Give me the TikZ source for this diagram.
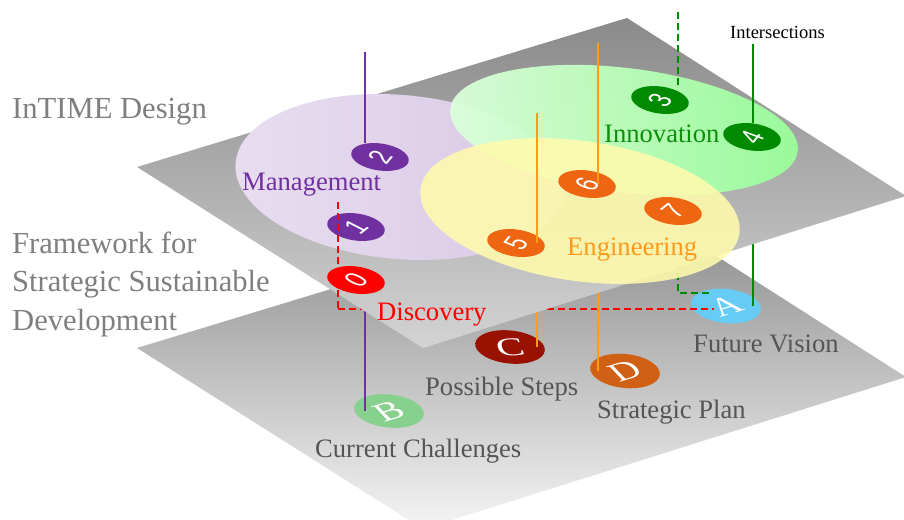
\documentclass[tikz,border=0pt]{standalone}
\usepackage{fontspec}
\setmainfont{Liberation Serif}
\newfontfamily\numfont{Liberation Sans}
\usepackage{graphicx}
\usetikzlibrary{shapes.geometric,positioning}

\definecolor{sidegray}{HTML}{7F7F7F}
\definecolor{labelgray}{HTML}{555555}
\definecolor{mgmtpurple}{HTML}{7030A0}
\definecolor{innogreen}{HTML}{0E900E}
\definecolor{enggorange}{HTML}{FF9A1A}
\definecolor{discred}{HTML}{FF0000}
\definecolor{badgegreen}{HTML}{008A00}
\definecolor{badgeorange}{HTML}{EE6611}
\definecolor{visionblue}{HTML}{66CCF5}
\definecolor{challgreen}{HTML}{88D08E}
\definecolor{stepsred}{HTML}{991100}
\definecolor{planorange}{HTML}{D06014}

\newcommand{\layflat}[2]{\scalebox{1}[0.6]{\rotatebox{#1}{#2}}}

\tikzset{
numbadge/.style={
  ellipse,
  inner sep=0pt,
  minimum width=58pt,
  minimum height=27pt,
  rotate=-8,
  text=white,
  font=\numfont\fontsize{32}{32}\selectfont,
  }
}
\tikzset{
stepbadge/.style={
  ellipse,
  inner sep=0pt,
  minimum width=70pt,
  minimum height=33pt,
  rotate=-6,
  text=white,
  font=\fontsize{42}{42}\selectfont,
  }
}
\tikzset{
planelabel/.style={
  inner sep=0pt,
  anchor=base west,
  font=\fontsize{26.6}{26.6}\selectfont,
  }
}
\tikzset{
link/.style={
  line width=1.8pt,
  }
}
\tikzset{
dashlink/.style={
  line width=1.4pt,
  dash pattern=on 7pt off 4pt,
  }
}

\begin{document}
\begin{tikzpicture}[x=1pt,y=-1pt]
    \useasboundingbox (0,0) rectangle (904,519);

    % lower plane
    \shade[top color=black!48, bottom color=black!4] (137,348) -- (627,199) -- (906,377) -- (423,529) -- cycle;

    \node[stepbadge, fill=visionblue] (badge_a) at (726,306) {\layflat{35}{A}};
    \node[stepbadge, fill=challgreen] (badge_b) at (389,411) {\layflat{35}{B}};
    \node[stepbadge, fill=stepsred] (badge_c) at (510,347) {\layflat{15}{C}};
    \node[stepbadge, fill=planorange] (badge_d) at (625,371) {\layflat{35}{D}};

    \node[planelabel, text=labelgray] (vision_lbl) at (693,352) {Future Vision};
    \node[planelabel, text=labelgray] (steps_lbl) at (425,395) {Possible Steps};
    \node[planelabel, text=labelgray] (plan_lbl) at (597,418) {Strategic Plan};
    \node[planelabel, text=labelgray] (chall_lbl) at (315,457) {Current Challenges};

    % links below the upper plane
    \coordinate (disc_corner) at (338,309);
    \coordinate (disc_end) at (714,309);
    \coordinate (mgmt_low) at (365,300);
    \coordinate (eng5_low) at (537,300);
    \coordinate (eng6_low) at (598,285);
    \coordinate (inno3_low) at (678,262);
    \coordinate (inno3_turn) at (678,293);
    \coordinate (inno3_end) at (712,293);
    \coordinate (inno4_low) at (753,235);

    \draw[dashlink, discred] (disc_corner) -- (disc_end);
    \draw[dashlink, badgegreen] (inno3_low) -- (inno3_turn) -- (inno3_end);
    \draw[link, badgegreen] (inno4_low) -- (inno4_low |- badge_a.center);
    \draw[link, mgmtpurple] (mgmt_low) -- (mgmt_low |- badge_b.center);
    \draw[link, enggorange] (eng5_low) -- (eng5_low |- badge_c.center);
    \draw[link, enggorange] (eng6_low) -- (eng6_low |- badge_d.center);

    % upper plane
    \shade[top color=black!46, bottom color=black!17] (137,167) -- (627,18) -- (906,196) -- (423,348) -- cycle;

    % areas
    \shade[left color=mgmtpurple!16, right color=mgmtpurple!27, rotate around={-5:(400,177)}] (400,177) ellipse [x radius=165, y radius=82];
    \shade[left color=green!14, right color=green!40, opacity=0.95, rotate around={-7:(624,130)}] (624,130) ellipse [x radius=175, y radius=62];
    \fill[yellow!32!white, opacity=0.88, rotate around={-8:(580,211)}] (580,211) ellipse [x radius=161, y radius=70];

    % upper plane badges
    \node[numbadge, fill=mgmtpurple] (badge_1) at (356,227) {\layflat{60}{1}};
    \coordinate (disc_top) at (338,202);
    \draw[dashlink, discred] (disc_top) -- (disc_corner);
    \node[numbadge, fill=discred] (badge_0) at (356,280) {\layflat{60}{0}};
    \node[numbadge, fill=mgmtpurple] (badge_2) at (380,157) {\layflat{70}{2}};
    \node[numbadge, fill=badgegreen] (badge_3) at (660,100) {\layflat{70}{3}};
    \node[numbadge, fill=badgegreen] (badge_4) at (752,137) {\layflat{70}{4}};
    \node[numbadge, fill=badgeorange] (badge_5) at (516,243) {\layflat{70}{5}};
    \node[numbadge, fill=badgeorange] (badge_6) at (587,184) {\layflat{70}{6}};
    \node[numbadge, fill=badgeorange] (badge_7) at (673,211) {\layflat{60}{7}};

    % area labels
    \node[planelabel, text=mgmtpurple] (mgmt_lbl) at (242,190) {Management};
    \node[planelabel, text=innogreen] (inno_lbl) at (604,142) {Innovation};
    \node[planelabel, text=enggorange] (eng_lbl) at (567,255) {Engineering};
    \node[planelabel, text=discred] (disc_lbl) at (377,320) {Discovery};

    % links above the upper plane
    \node[planelabel, font=\fontsize{18.5}{18.5}\selectfont] (isect_lbl) at (730,39) {Intersections};
    \coordinate (mgmt_top) at (365,52);
    \coordinate (eng5_top) at (537,113);
    \coordinate (eng6_top) at (598,43);
    \coordinate (inno3_top) at (678,12);
    \coordinate (inno4_top) at (753,44);

    \draw[link, mgmtpurple] (mgmt_top) -- (mgmt_top |- badge_2.north);
    \draw[link, enggorange] (eng5_top) -- (eng5_top |- badge_5.center);
    \draw[link, enggorange] (eng6_top) -- (eng6_top |- badge_6.center);
    \draw[dashlink, badgegreen] (inno3_top) -- (inno3_top |- badge_3.north);
    \draw[link, badgegreen] (inno4_top) -- (inno4_top |- badge_4.north);

    % side titles
    \node[planelabel, text=sidegray, font=\fontsize{30.6}{30.6}\selectfont] (design_lbl) at (12,118) {InTIME Design};
    \node[planelabel, text=sidegray, font=\fontsize{30.6}{38.5}\selectfont, align=left] (frame_lbl) at (12,330) {Framework for\\Strategic Sustainable\\Development};
\end{tikzpicture}
\end{document}
